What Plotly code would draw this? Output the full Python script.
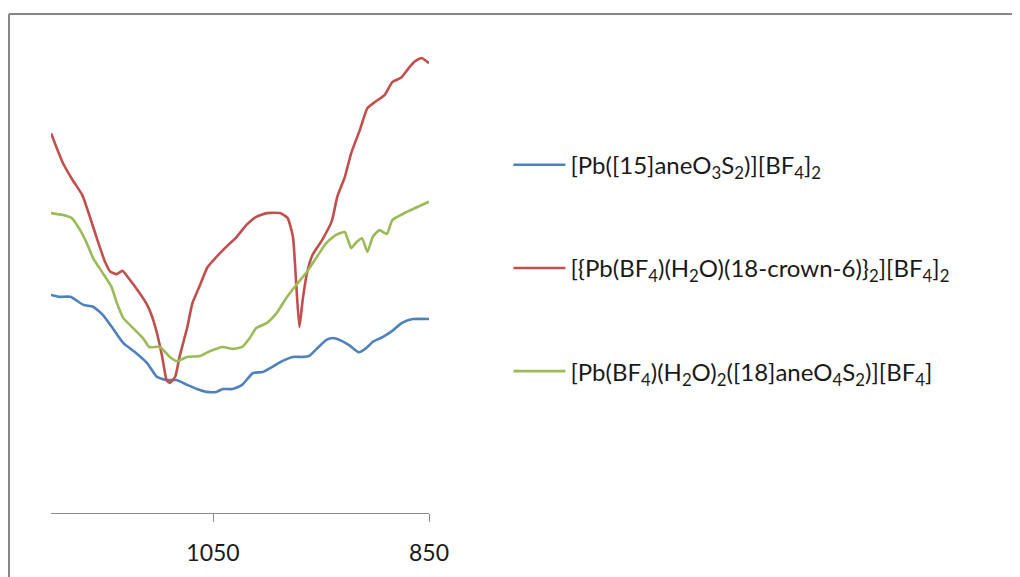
import plotly.graph_objects as go

# Wavenumber (cm^-1) and relative transmittance readings
blue_wn = [1200, 1192, 1182, 1170, 1161, 1152, 1143, 1133, 1121, 1111, 1102, 1093, 1084, 1074,
           1065, 1056, 1047, 1041, 1032, 1023, 1013, 1004, 995, 986, 976, 967, 961, 954, 945,
           939, 933, 924, 915, 908, 902, 893, 884, 875, 865, 850]
blue_t = [46.1, 45.7, 45.7, 44.0, 43.6, 41.9, 39.1, 35.9, 33.8, 31.7, 28.8, 28.1, 28.1, 27.1,
          26.2, 25.6, 25.6, 26.2, 26.2, 27.1, 29.6, 29.8, 30.9, 32.1, 33.0, 33.0, 33.2, 34.7, 36.6,
          37.0, 36.6, 35.5, 34.0, 34.9, 36.2, 37.2, 38.5, 40.2, 41.0, 41.0]

red_wn = [1200, 1189, 1180, 1171, 1164, 1157, 1150, 1145, 1139, 1134, 1127, 1118, 1111, 1107,
          1102, 1097, 1093, 1090, 1085, 1081, 1074, 1069, 1062, 1055, 1047, 1039, 1028, 1019,
          1010, 1000, 988, 981, 976, 973, 970, 967, 963, 958, 949, 940, 935, 928, 922, 914,
          907, 900, 891, 884, 876, 870, 864, 857, 850]
red_t = [80.3, 74.0, 70.4, 67.2, 62.6, 57.7, 53.1, 51.0, 50.5, 51.2, 49.3, 46.5, 44.0, 41.9,
         38.1, 33.0, 28.1, 27.5, 28.8, 33.0, 39.1, 44.4, 48.2, 52.0, 54.1, 56.0, 58.4, 60.9,
         62.6, 63.4, 63.4, 62.4, 58.4, 48.6, 39.3, 45.0, 50.7, 54.5, 57.7, 61.7, 66.8, 71.0,
         76.1, 81.0, 85.6, 86.9, 88.4, 91.1, 92.0, 93.7, 95.3, 96.2, 95.1]

green_wn = [1200, 1189, 1181, 1173, 1167, 1161, 1152, 1144, 1139, 1133, 1124, 1115, 1109, 1099,
            1090, 1083, 1074, 1062, 1053, 1041, 1032, 1023, 1016, 1010, 1000, 991, 982, 973,
            963, 954, 945, 936, 928, 925, 922, 917, 912, 907, 902, 896, 889, 884, 871, 850]
green_t = [63.4, 63.0, 62.4, 59.8, 57.1, 53.9, 50.7, 47.8, 44.4, 41.2, 39.1, 37.0, 35.1, 35.1,
           33.0, 32.1, 33.0, 33.2, 34.2, 35.1, 34.7, 35.1, 37.0, 39.1, 40.2, 42.3, 45.5, 48.2,
           51.0, 54.1, 57.1, 58.8, 59.4, 57.7, 56.0, 57.3, 58.1, 55.2, 58.4, 59.8, 59.0, 61.9,
           63.6, 65.8]

names = [
    "[Pb([15]aneO<sub>3</sub>S<sub>2</sub>)][BF<sub>4</sub>]<sub>2</sub>",
    "[{Pb(BF<sub>4</sub>)(H<sub>2</sub>O)(18-crown-6)}<sub>2</sub>][BF<sub>4</sub>]<sub>2</sub>",
    "[Pb(BF<sub>4</sub>)(H<sub>2</sub>O)<sub>2</sub>([18]aneO<sub>4</sub>S<sub>2</sub>)][BF<sub>4</sub>]",
]
colors = ["#4F81BD", "#C0504D", "#9BBB59"]
tick_vals = [1050, 850]
tick_text = ["1050", "850"]

fig = go.Figure()
for i, (xs, ys) in enumerate([(blue_wn, blue_t), (red_wn, red_t), (green_wn, green_t)]):
    fig.add_trace(go.Scatter(
        x=xs, y=ys, mode="lines", name=names[i], legendgroup=f"g{i}",
        line=dict(color=colors[i], width=2.6, shape="spline", smoothing=0.5),
    ))

border = dict(color="#878787", width=2)
fig.update_layout(
    width=1012, height=569,
    margin=dict(l=43, r=591, t=32, b=64, autoexpand=False),
    paper_bgcolor="white", plot_bgcolor="white",
    font=dict(family="Lato", color="#1a1a1a"),
    showlegend=True,
    legend=dict(
        x=1.21, y=0.783, xanchor="left", yanchor="top",
        font=dict(size=24, family="Lato", color="#1a1a1a"),
        tracegroupgap=69, itemwidth=52, bgcolor="rgba(0,0,0,0)",
    ),
    xaxis=dict(
        range=[1200, 850], tickvals=tick_vals, ticktext=tick_text,
        showline=True, linecolor="#8c8c8c", linewidth=1,
        ticks="outside", ticklen=8, tickcolor="#8c8c8c",
        showgrid=False, zeroline=False, automargin=False,
        tickfont=dict(size=23, family="Lato", color="#1a1a1a"),
        ticklabelstandoff=11,
    ),
    yaxis=dict(range=[0, 100], visible=False, automargin=False),
    shapes=[
        dict(type="line", xref="paper", yref="paper",
             x0=-0.1111, x1=3.0, y0=1.055, y1=1.055, line=border),
        dict(type="line", xref="paper", yref="paper",
             x0=-0.1111, x1=-0.1111, y0=-0.3, y1=1.055, line=border),
    ],
)

fig.write_html("out.html")
